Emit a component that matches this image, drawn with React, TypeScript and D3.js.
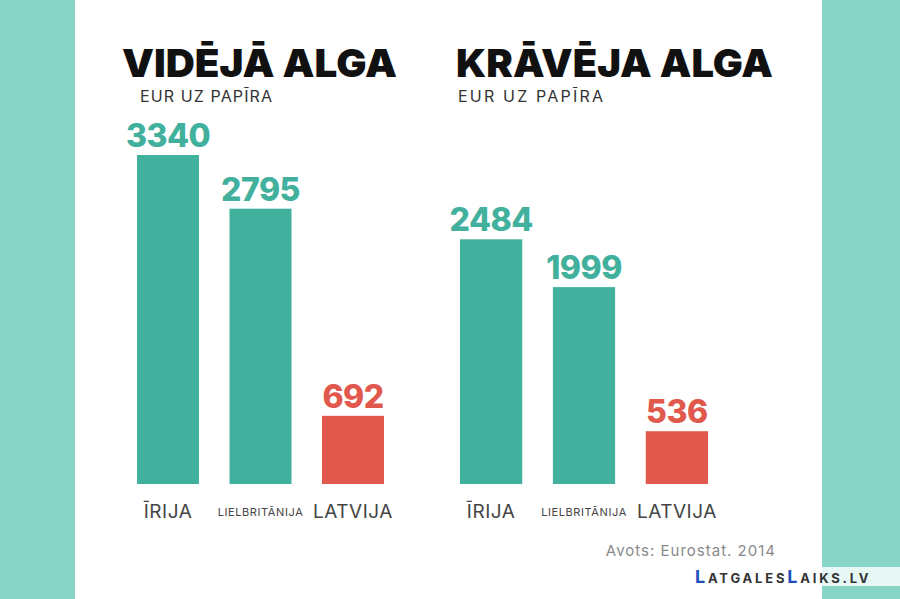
import { scaleBand, scaleLinear } from "d3";

const categories = ["ĪRIJA", "LIELBRITĀNIJA", "LATVIJA"];
const avgWage = [3340, 2795, 692];
const driverWage = [2484, 1999, 536];
const panels = [
  { title: "VIDĒJĀ ALGA", subtitle: "EUR UZ PAPĪRA", values: avgWage },
  { title: "KRĀVĒJA ALGA", subtitle: "EUR UZ PAPĪRA", values: driverWage },
];
const source = "Avots: Eurostat. 2014";

const W = 900;
const H = 599;
const TEAL = "#41b09d";
const RED = "#e0594c";
const FONT = "Inter, 'Open Sans', sans-serif";

export default function App() {
  const y = scaleLinear().domain([0, 3340]).range([484, 155]);
  const panelX = [
    { x0: 137, x1: 384, titleX: 122, subX: 140, titleW: 275, subW: 132 },
    { x0: 460, x1: 708, titleX: 456, subX: 458, titleW: 317, subW: 145 },
  ];

  return (
    <svg
      width={W}
      height={H}
      style={{ position: "absolute", left: 0, top: 0, fontFamily: FONT }}
    >
      <rect width={W} height={H} fill="#86d5c7" />
      <rect x={75} y={0} width={747} height={H} fill="#ffffff" />

      {panels.map((p, i) => {
        const pos = panelX[i];
        const x = scaleBand<string>()
          .domain(categories)
          .range([pos.x0, pos.x1])
          .paddingInner(0.33)
          .paddingOuter(0);
        return (
          <g key={p.title}>
            <text
              x={pos.titleX}
              y={77}
              fontSize={39}
              fontWeight={900}
              fill="#111"
              textLength={pos.titleW}
              lengthAdjust="spacingAndGlyphs"
            >
              {p.title}
            </text>
            <text
              x={pos.subX}
              y={102}
              fontSize={16}
              fill="#333"
              textLength={pos.subW}
              lengthAdjust="spacing"
            >
              {p.subtitle}
            </text>
            {categories.map((c, j) => {
              const bx = x(c) ?? 0;
              const cx = bx + x.bandwidth() / 2;
              const color = j === 2 ? RED : TEAL;
              const small = c.length > 8;
              return (
                <g key={c}>
                  <rect
                    x={bx}
                    y={y(p.values[j])}
                    width={x.bandwidth()}
                    height={y(0) - y(p.values[j])}
                    fill={color}
                  />
                  <text
                    x={cx}
                    y={y(p.values[j]) - 8}
                    textAnchor="middle"
                    fontSize={32}
                    fontWeight={800}
                    fill={color}
                    letterSpacing={-0.5}
                  >
                    {p.values[j]}
                  </text>
                  <text
                    x={cx}
                    y={small ? 516 : 518}
                    textAnchor="middle"
                    fontSize={small ? 11 : 19}
                    letterSpacing={small ? 0.6 : 0.5}
                    fill="#444"
                  >
                    {c}
                  </text>
                </g>
              );
            })}
          </g>
        );
      })}

      <text
        x={776}
        y={556}
        textAnchor="end"
        fontSize={15}
        fill="#8a8a8a"
        letterSpacing={1}
      >
        {source}
      </text>

      <rect x={690} y={567} width={210} height={19} fill="#ffffff" opacity={0.8} />
      <text x={695} y={583} fontSize={18} fontWeight={700} letterSpacing={2.8} fill="#333">
        <tspan fill="#1f4fb8">L</tspan>
        <tspan fontSize={13}>ATGALES</tspan>
        <tspan fill="#1f4fb8">L</tspan>
        <tspan fontSize={13}>AIKS.LV</tspan>
      </text>
    </svg>
  );
}
